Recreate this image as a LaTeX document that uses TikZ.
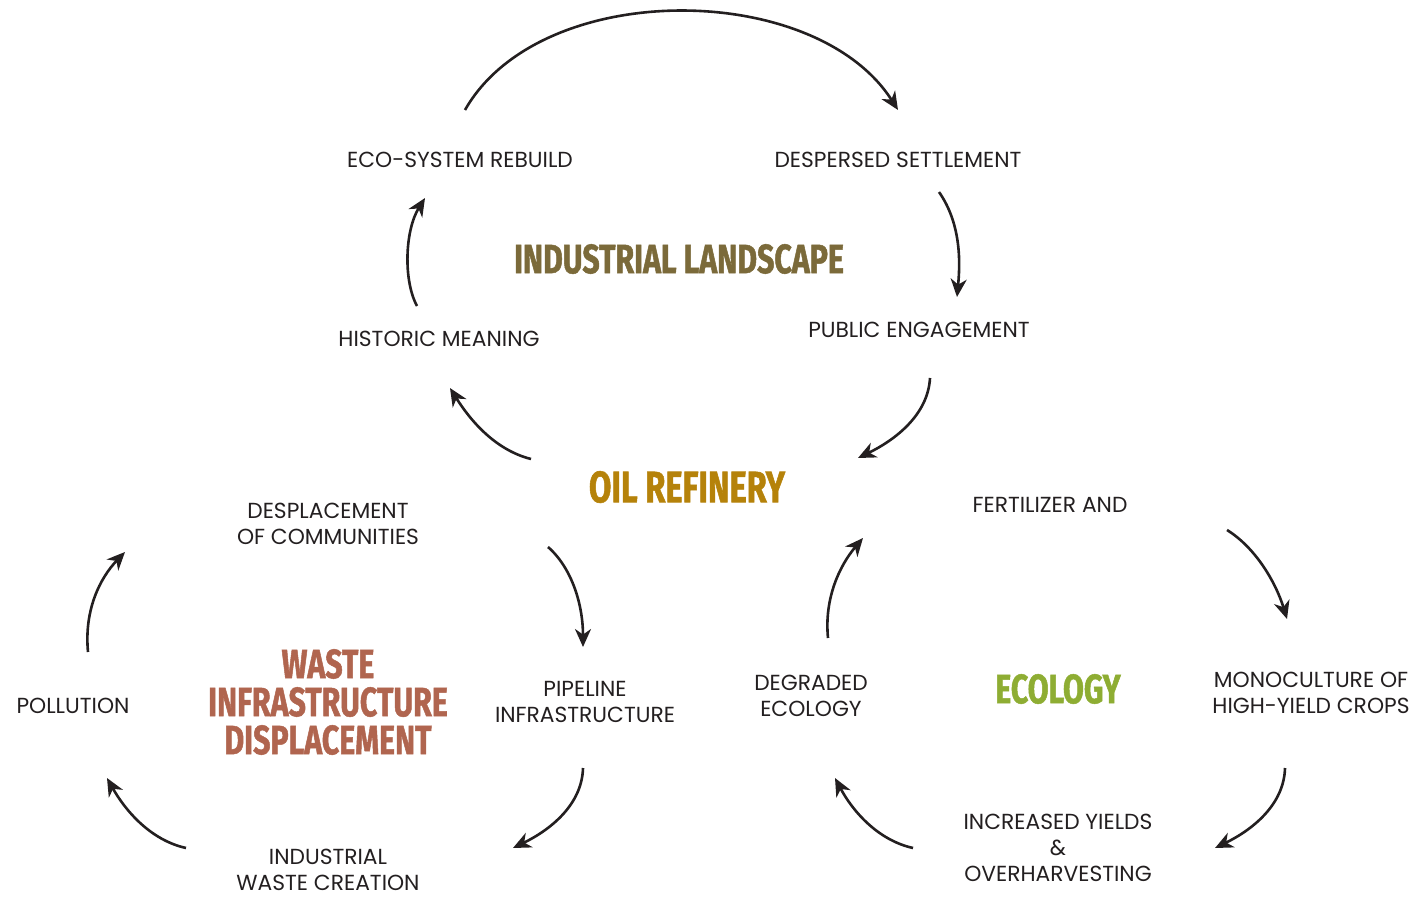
\documentclass[tikz,border=0pt]{standalone}
\usepackage{fontspec}
\setmainfont{Poppins}
\newfontfamily\headfont[FakeStretch=0.74,FakeBold=1.2]{Fira Sans Bold}
\usetikzlibrary{arrows.meta}
\definecolor{ink}{HTML}{231F20}
\definecolor{landc}{HTML}{7B6A3A}
\definecolor{oilc}{HTML}{B5820A}
\definecolor{wastec}{HTML}{B0654F}
\definecolor{ecoc}{HTML}{8EAD33}
\begin{document}
\begin{tikzpicture}[x=0.5pt,y=-0.5pt,
  lbl/.style={inner sep=0pt,align=center,text=ink,font=\fontsize{10.9}{13}\selectfont},
  head/.style={inner sep=0pt,align=center,font=\headfont\fontsize{20.5}{19}\selectfont},
  flow/.style={draw=ink,line width=1.3pt,-{Stealth[length=9pt,width=8pt,inset=2.8pt]}}]
\useasboundingbox (0,0) rectangle (1423,898);

% labels
\node[lbl] (eco) at (460,160) {ECO-SYSTEM REBUILD};
\node[lbl] (desp) at (898,160) {DESPERSED SETTLEMENT};
\node[lbl] (hist) at (439,339) {HISTORIC MEANING};
\node[lbl] (pub) at (919,330) {PUBLIC ENGAGEMENT};
\node[lbl] (comm) at (328,524) {DESPLACEMENT\\OF COMMUNITIES};
\node[lbl] (fert) at (1050,505) {FERTILIZER AND};
\node[lbl] (poll) at (73,706) {POLLUTION};
\node[lbl] (pipe) at (585,702) {PIPELINE\\INFRASTRUCTURE};
\node[lbl] (degr) at (811,696) {DEGRADED\\ECOLOGY};
\node[lbl] (mono) at (1311,693) {MONOCULTURE OF\\HIGH-YIELD CROPS};
\node[lbl] (incr) at (1058,848) {INCREASED YIELDS\\\&\\OVERHARVESTING};
\node[lbl] (indw) at (328,870) {INDUSTRIAL\\WASTE CREATION};

% headings
\node[head,text=landc] (land) at (679,259) {INDUSTRIAL LANDSCAPE};
\node[head,text=oilc,font=\headfont\fontsize{22}{19}\selectfont] (oil) at (687,487) {OIL REFINERY};
\node[head,text=wastec] (waste) at (328,702) {WASTE\\INFRASTRUCTURE\\DISPLACEMENT};
\node[head,text=ecoc] (ecol) at (1058,689) {ECOLOGY};

% arrow end points
\coordinate (a1s) at (465,110); \coordinate (a1e) at (898,110);
\coordinate (a2s) at (939,192); \coordinate (a2e) at (957,297);
\coordinate (a3s) at (930,378); \coordinate (a3e) at (858,458);
\coordinate (a4s) at (531,459); \coordinate (a4e) at (450,388);
\coordinate (a5s) at (417,306); \coordinate (a5e) at (425,198);
\coordinate (a6s) at (548,547); \coordinate (a6e) at (583,647);
\coordinate (a7s) at (583,768); \coordinate (a7e) at (513,848);
\coordinate (a8s) at (186,848); \coordinate (a8e) at (107,778);
\coordinate (a9s) at (88,652);  \coordinate (a9e) at (125,552);
\coordinate (a10s) at (828,638); \coordinate (a10e) at (863,538);
\coordinate (a11s) at (1227,530); \coordinate (a11e) at (1287,619);
\coordinate (a12s) at (1285,768); \coordinate (a12e) at (1215,848);
\coordinate (a13s) at (913,848); \coordinate (a13e) at (835,778);

\draw[flow] (a1s) .. controls (540,-22) and (815,-20) .. (a1e);
\draw[flow] (a2s) .. controls (962,225) and (960,265) .. (a2e);
\draw[flow] (a3s) .. controls (928,415) and (895,440) .. (a3e);
\draw[flow] (a4s) .. controls (495,450) and (470,420) .. (a4e);
\draw[flow] (a5s) .. controls (403,280) and (405,230) .. (a5e);
\draw[flow] (a6s) .. controls (572,568) and (583,605) .. (a6e);
\draw[flow] (a7s) .. controls (582,805) and (550,830) .. (a7e);
\draw[flow] (a8s) .. controls (150,840) and (125,810) .. (a8e);
\draw[flow] (a9s) .. controls (84,610) and (100,578) .. (a9e);
\draw[flow] (a10s) .. controls (824,598) and (840,565) .. (a10e);
\draw[flow] (a11s) .. controls (1256,548) and (1276,583) .. (a11e);
\draw[flow] (a12s) .. controls (1284,805) and (1252,830) .. (a12e);
\draw[flow] (a13s) .. controls (877,840) and (852,810) .. (a13e);
\end{tikzpicture}
\end{document}
